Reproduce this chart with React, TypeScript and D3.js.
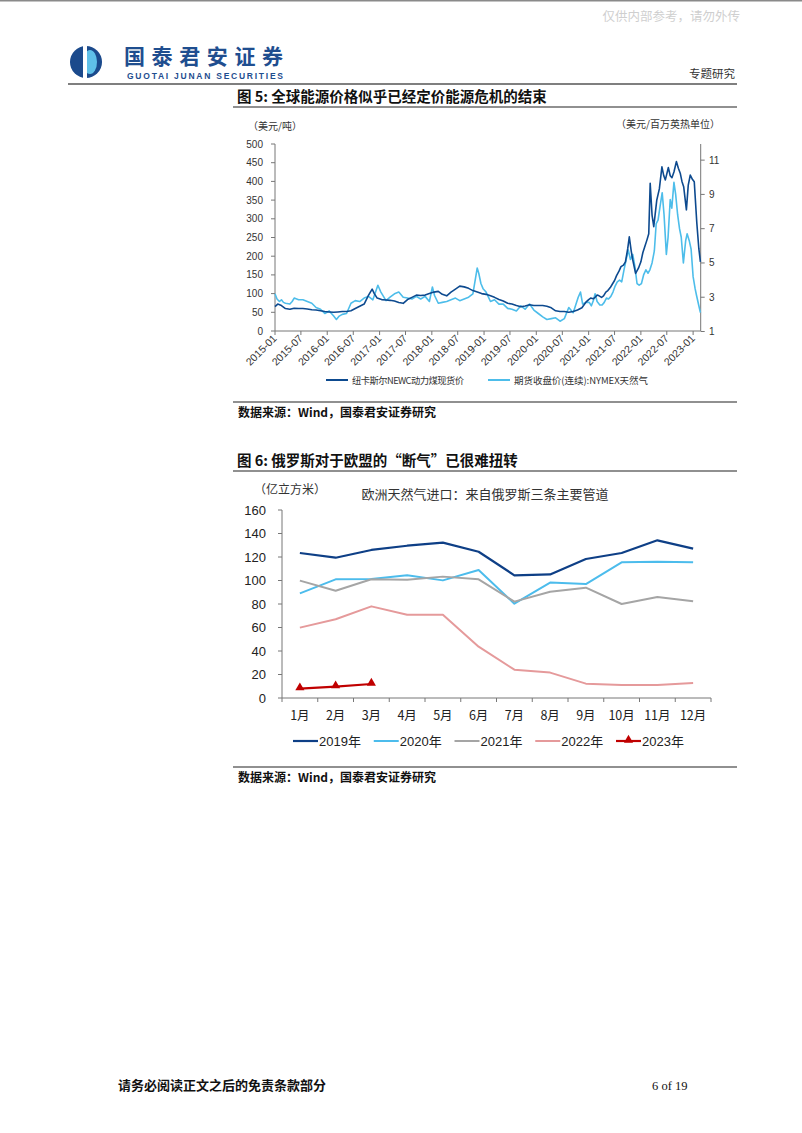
import React from "react";
import * as d3 from "d3";

// 图5 数据：纽卡斯尔NEWC动力煤现货价（美元/吨）
const coalPoints: [string, number][] = [
  ["2015-01-01", 65], ["2015-01-20", 72], ["2015-02-15", 68], ["2015-03-15", 60], ["2015-04-15", 58],
  ["2015-05-15", 61], ["2015-06-15", 60], ["2015-07-15", 60], ["2015-08-15", 59], ["2015-09-15", 57],
  ["2015-10-15", 56], ["2015-11-15", 54], ["2015-12-15", 52],
  ["2016-01-15", 51], ["2016-02-15", 50], ["2016-03-15", 51], ["2016-04-15", 52], ["2016-05-15", 52],
  ["2016-06-15", 54], ["2016-07-15", 60], ["2016-08-15", 66], ["2016-09-15", 72], ["2016-10-15", 95],
  ["2016-11-10", 112], ["2016-11-25", 100], ["2016-12-15", 88],
  ["2017-01-15", 84], ["2017-02-15", 83], ["2017-03-15", 82], ["2017-04-15", 80], ["2017-05-15", 76],
  ["2017-06-15", 74], ["2017-07-15", 84], ["2017-08-15", 90], ["2017-09-15", 96], ["2017-10-15", 95],
  ["2017-11-15", 96], ["2017-12-15", 100],
  ["2018-01-15", 104], ["2018-02-15", 106], ["2018-03-15", 98], ["2018-04-15", 94], ["2018-05-15", 104],
  ["2018-06-15", 112], ["2018-07-15", 120], ["2018-08-15", 118], ["2018-09-15", 114], ["2018-10-15", 108],
  ["2018-11-15", 104], ["2018-12-15", 100],
  ["2019-01-15", 98], ["2019-02-15", 94], ["2019-03-15", 90], ["2019-04-15", 84], ["2019-05-15", 80],
  ["2019-06-15", 74], ["2019-07-15", 72], ["2019-08-15", 68], ["2019-09-15", 65], ["2019-10-15", 67],
  ["2019-11-15", 70], ["2019-12-15", 68],
  ["2020-01-15", 68], ["2020-02-15", 68], ["2020-03-15", 66], ["2020-04-15", 62], ["2020-05-15", 54],
  ["2020-06-15", 52], ["2020-07-15", 52], ["2020-08-15", 50], ["2020-09-15", 52], ["2020-10-15", 56],
  ["2020-11-15", 62], ["2020-12-15", 78],
  ["2021-01-01", 84], ["2021-01-15", 88], ["2021-02-01", 86], ["2021-02-15", 90], ["2021-03-01", 96],
  ["2021-03-15", 94], ["2021-04-01", 90], ["2021-04-15", 94], ["2021-05-01", 104], ["2021-05-15", 108],
  ["2021-06-01", 116], ["2021-06-15", 125], ["2021-07-01", 135], ["2021-07-15", 148], ["2021-08-01", 160],
  ["2021-08-15", 172], ["2021-09-01", 176], ["2021-09-15", 185], ["2021-10-01", 220], ["2021-10-12", 252],
  ["2021-10-25", 215], ["2021-11-05", 190], ["2021-11-25", 154], ["2021-12-15", 168],
  ["2022-01-01", 185], ["2022-01-15", 210], ["2022-01-28", 225], ["2022-02-12", 243], ["2022-02-25", 260],
  ["2022-03-07", 395], ["2022-03-20", 310], ["2022-04-01", 279], ["2022-04-22", 350], ["2022-05-10", 380],
  ["2022-05-28", 439], ["2022-06-10", 415], ["2022-06-21", 404], ["2022-07-12", 437], ["2022-07-25", 415],
  ["2022-08-06", 410], ["2022-08-20", 425], ["2022-09-06", 453], ["2022-09-20", 435], ["2022-10-03", 422],
  ["2022-10-15", 400], ["2022-10-27", 386], ["2022-11-15", 324], ["2022-11-28", 390], ["2022-12-12", 417],
  ["2022-12-28", 405], ["2023-01-09", 399], ["2023-01-27", 288], ["2023-02-10", 220], ["2023-02-21", 185],
];

// 图5 数据：期货收盘价(连续):NYMEX天然气（美元/百万英热单位）
const gasPoints: [string, number][] = [
  ["2015-01-01", 3.2], ["2015-01-15", 2.9], ["2015-02-01", 2.75], ["2015-02-15", 2.85], ["2015-03-01", 2.7],
  ["2015-03-15", 2.65], ["2015-04-15", 2.6], ["2015-05-01", 2.75], ["2015-05-15", 2.95], ["2015-06-15", 2.85],
  ["2015-07-15", 2.85], ["2015-08-15", 2.75], ["2015-09-15", 2.65], ["2015-10-15", 2.4], ["2015-11-15", 2.3],
  ["2015-12-15", 2.05],
  ["2016-01-15", 2.2], ["2016-02-15", 1.9], ["2016-03-05", 1.7], ["2016-03-25", 1.9], ["2016-04-15", 2.0],
  ["2016-05-15", 2.05], ["2016-06-15", 2.65], ["2016-07-15", 2.8], ["2016-08-15", 2.75], ["2016-09-15", 2.95],
  ["2016-10-15", 3.05], ["2016-11-15", 2.85], ["2016-12-20", 3.7],
  ["2017-01-10", 3.3], ["2017-02-15", 2.8], ["2017-03-15", 3.0], ["2017-04-15", 3.2], ["2017-05-15", 3.3],
  ["2017-06-15", 3.0], ["2017-07-15", 2.95], ["2017-08-15", 2.9], ["2017-09-15", 3.05], ["2017-10-15", 2.9],
  ["2017-11-15", 3.05], ["2017-12-15", 2.75],
  ["2018-01-05", 3.6], ["2018-01-20", 3.1], ["2018-02-15", 2.65], ["2018-03-15", 2.7], ["2018-04-15", 2.75],
  ["2018-05-15", 2.85], ["2018-06-15", 2.95], ["2018-07-15", 2.8], ["2018-08-15", 2.9], ["2018-09-15", 3.0],
  ["2018-10-15", 3.2], ["2018-11-14", 4.7], ["2018-11-25", 4.4], ["2018-12-10", 3.8], ["2018-12-25", 3.5],
  ["2019-01-15", 3.3], ["2019-02-15", 2.75], ["2019-03-15", 2.85], ["2019-04-15", 2.6], ["2019-05-15", 2.6],
  ["2019-06-15", 2.35], ["2019-07-15", 2.3], ["2019-08-15", 2.2], ["2019-09-15", 2.5], ["2019-10-15", 2.3],
  ["2019-11-15", 2.6], ["2019-12-15", 2.25],
  ["2020-01-15", 2.05], ["2020-02-15", 1.85], ["2020-03-15", 1.7], ["2020-04-15", 1.75], ["2020-05-15", 1.8],
  ["2020-06-15", 1.6], ["2020-07-15", 1.75], ["2020-08-15", 2.4], ["2020-09-15", 2.1], ["2020-10-20", 3.0],
  ["2020-11-05", 3.3], ["2020-11-20", 2.6], ["2020-12-15", 2.7],
  ["2021-01-05", 2.7], ["2021-01-20", 2.5], ["2021-02-05", 2.85], ["2021-02-15", 3.2], ["2021-03-01", 2.75],
  ["2021-03-20", 2.55], ["2021-04-05", 2.55], ["2021-04-20", 2.7], ["2021-05-05", 2.95], ["2021-05-20", 2.9],
  ["2021-06-05", 3.05], ["2021-06-20", 3.3], ["2021-07-05", 3.65], ["2021-07-20", 3.9], ["2021-08-05", 4.0],
  ["2021-08-20", 3.9], ["2021-09-05", 4.6], ["2021-09-20", 5.2], ["2021-10-05", 5.75], ["2021-10-20", 5.2],
  ["2021-11-05", 5.5], ["2021-11-20", 4.8], ["2021-12-05", 3.8], ["2021-12-20", 3.7],
  ["2022-01-05", 3.8], ["2022-01-20", 4.3], ["2022-02-05", 4.6], ["2022-02-20", 4.4], ["2022-03-05", 4.6],
  ["2022-03-20", 5.0], ["2022-04-05", 5.7], ["2022-04-18", 7.3], ["2022-05-01", 7.5], ["2022-05-15", 8.3],
  ["2022-05-30", 9.1], ["2022-06-12", 7.8], ["2022-06-28", 5.5], ["2022-07-10", 6.5], ["2022-07-25", 8.7],
  ["2022-08-05", 8.2], ["2022-08-20", 9.7], ["2022-09-01", 9.0], ["2022-09-15", 7.8], ["2022-09-28", 7.0],
  ["2022-10-10", 6.5], ["2022-10-25", 5.0], ["2022-11-10", 6.3], ["2022-11-20", 6.7], ["2022-12-05", 6.3],
  ["2022-12-18", 5.8], ["2023-01-01", 4.2], ["2023-01-15", 3.5], ["2023-01-25", 3.1], ["2023-02-10", 2.5],
  ["2023-02-21", 2.1],
];

const leftTicks = [0, 50, 100, 150, 200, 250, 300, 350, 400, 450, 500];
const rightTicks = [1, 3, 5, 7, 9, 11];

// 图6 数据：欧洲天然气进口（亿立方米）
const months = ["1月", "2月", "3月", "4月", "5月", "6月", "7月", "8月", "9月", "10月", "11月", "12月"];
const imports2019 = [123.4, 119.4, 126, 129.6, 132.2, 124.5, 104.4, 105.2, 118.3, 123.4, 134.2, 127.1];
const imports2020 = [89, 101, 101.3, 104.4, 100.1, 109, 80.3, 98.2, 97, 115.5, 116, 115.5];
const imports2021 = [99.9, 91.3, 101, 100.7, 103.3, 101, 82, 90.5, 93.9, 80, 86, 82.3];
const imports2022 = [59.9, 67, 78, 70.9, 70.9, 43.7, 24.1, 21.6, 12.2, 11.1, 11.1, 12.8];
const imports2023 = [7.9, 9.6, 11.9];
const importTicks = [0, 20, 40, 60, 80, 100, 120, 140, 160];

const CJK = "'Noto Sans CJK SC', sans-serif";
const LATIN = "'Liberation Sans', Arial, sans-serif";

const FigureOne: React.FC = () => {
  const parse = d3.timeParse("%Y-%m-%d");
  const x = d3.scaleTime()
    .domain([parse("2015-01-01")!, parse("2023-02-23")!])
    .range([275, 700.7]);
  const yL = d3.scaleLinear().domain([0, 500]).range([331, 144]);
  const yR = d3.scaleLinear().domain([1, 12]).range([331.5, 143]);

  const coal = coalPoints.map(([d, v]) => ({ d: parse(d)!, v }));
  const gas = gasPoints.map(([d, v]) => ({ d: parse(d)!, v }));
  const coalLine = d3.line<{ d: Date; v: number }>().x(p => x(p.d)).y(p => yL(p.v));
  const gasLine = d3.line<{ d: Date; v: number }>().x(p => x(p.d)).y(p => yR(p.v));

  const xTicks = d3.timeMonth.every(6)!.range(parse("2015-01-01")!, parse("2023-01-02")!);
  const fmt = d3.timeFormat("%Y-%m");

  return (
    <g>
      <text x={248} y={130} fontFamily={CJK} fontSize={10} fill="#333">（美元/吨）</text>
      <text x={720} y={128} fontFamily={CJK} fontSize={10} fill="#333" textAnchor="end">（美元/百万英热单位）</text>

      {/* 左轴 */}
      <line x1={275} x2={275} y1={144} y2={331} stroke="#777" />
      {leftTicks.map(t => (
        <g key={t}>
          <line x1={271} x2={275} y1={yL(t)} y2={yL(t)} stroke="#777" />
          <text x={263} y={yL(t) + 3.5} textAnchor="end" fontFamily={LATIN} fontSize={10} fill="#333">{t}</text>
        </g>
      ))}
      {/* 右轴 */}
      <line x1={700.7} x2={700.7} y1={144} y2={331} stroke="#777" />
      {rightTicks.map(t => (
        <g key={t}>
          <line x1={700.7} x2={704.7} y1={yR(t)} y2={yR(t)} stroke="#777" />
          <text x={709} y={yR(t) + 3.5} fontFamily={LATIN} fontSize={10} fill="#333">{t}</text>
        </g>
      ))}
      {/* X轴 */}
      <line x1={275} x2={700.7} y1={331} y2={331} stroke="#777" />
      {xTicks.map(t => (
        <g key={+t}>
          <line x1={x(t)} x2={x(t)} y1={331} y2={335} stroke="#777" />
          <text
            transform={`translate(${x(t) + 2.5},${339}) rotate(-45)`}
            textAnchor="end"
            fontFamily={LATIN}
            fontSize={10.5}
            fill="#333"
          >
            {fmt(t)}
          </text>
        </g>
      ))}

      <path d={gasLine(gas) ?? ""} fill="none" stroke="#4dbdea" strokeWidth={1.6} strokeLinejoin="round" />
      <path d={coalLine(coal) ?? ""} fill="none" stroke="#0d4a8f" strokeWidth={1.6} strokeLinejoin="round" />

      {/* 图例 */}
      <line x1={326} x2={348} y1={380} y2={380} stroke="#0d4a8f" strokeWidth={2} />
      <text x={352} y={384} fontFamily={CJK} fontSize={9.3} fill="#333" textLength={112}>纽卡斯尔NEWC动力煤现货价</text>
      <line x1={488} x2={510} y1={380} y2={380} stroke="#4dbdea" strokeWidth={2} />
      <text x={514} y={384} fontFamily={CJK} fontSize={9.5} fill="#333" textLength={134}>期货收盘价(连续):NYMEX天然气</text>
    </g>
  );
};

const FigureTwo: React.FC = () => {
  const x = d3.scaleBand<string>().domain(months).range([282, 711]);
  const y = d3.scaleLinear().domain([0, 160]).range([698, 510]);
  const cx = (m: string) => (x(m) ?? 0) + x.bandwidth() / 2;

  const series = [
    { name: "2019年", values: imports2019, color: "#0e3f86", width: 2.2 },
    { name: "2020年", values: imports2020, color: "#4cbcec", width: 2 },
    { name: "2021年", values: imports2021, color: "#a5a5a5", width: 2 },
    { name: "2022年", values: imports2022, color: "#e59a9b", width: 2 },
    { name: "2023年", values: imports2023, color: "#c00000", width: 2.2 },
  ];
  const line = d3.line<number>().x((_, i) => cx(months[i])).y(v => y(v));
  const tri = d3.symbol(d3.symbolTriangle, 36);

  return (
    <g>
      <text x={254} y={494} fontFamily={CJK} fontSize={12} fill="#333">（亿立方米）</text>
      <text x={485} y={499} textAnchor="middle" fontFamily={CJK} fontSize={13} fill="#333">欧洲天然气进口：来自俄罗斯三条主要管道</text>

      <line x1={282} x2={282} y1={510} y2={698} stroke="#777" />
      {importTicks.map(t => (
        <g key={t}>
          <line x1={278} x2={282} y1={y(t)} y2={y(t)} stroke="#777" />
          <text x={266} y={y(t) + 4.5} textAnchor="end" fontFamily={LATIN} fontSize={13} fill="#222">{t}</text>
        </g>
      ))}
      <line x1={282} x2={711} y1={698} y2={698} stroke="#777" />
      {months.map((m, i) => (
        <g key={m}>
          <line x1={x(m)} x2={x(m)} y1={698} y2={702} stroke="#777" />
          {i === months.length - 1 && <line x1={711} x2={711} y1={698} y2={702} stroke="#777" />}
          <text x={cx(m)} y={720} textAnchor="middle" fontFamily={CJK} fontSize={12.5} fill="#222">{m}</text>
        </g>
      ))}

      {series.map(s => (
        <path key={s.name} d={line(s.values) ?? ""} fill="none" stroke={s.color} strokeWidth={s.width} strokeLinejoin="round" />
      ))}
      {imports2023.map((v, i) => (
        <path key={i} d={tri() ?? ""} transform={`translate(${cx(months[i])},${y(v) - 1})`} fill="#c00000" />
      ))}

      {/* 图例 */}
      {series.map((s, i) => {
        const lx = 293 + i * 80.75;
        return (
          <g key={s.name}>
            <line x1={lx} x2={lx + 25} y1={741} y2={741} stroke={s.color} strokeWidth={s.width} />
            {s.name === "2023年" && <path d={tri() ?? ""} transform={`translate(${lx + 12.5},${740})`} fill="#c00000" />}
            <text x={lx + 26} y={746} fontFamily={LATIN} fontSize={13} fill="#222">
              {s.name.slice(0, 4)}
              <tspan fontFamily={CJK}>年</tspan>
            </text>
          </g>
        );
      })}
    </g>
  );
};

export default function App() {
  return (
    <svg
      width={802}
      height={1133}
      viewBox="0 0 802 1133"
      style={{ position: "absolute", left: 0, top: 0, background: "#fff" }}
    >
      <rect x={0} y={0} width={802} height={1133} fill="#fff" />
      <rect x={0} y={0} width={802} height={1.5} fill="#8a8a8a" />
      <text x={740} y={21} textAnchor="end" fontFamily={CJK} fontSize={12.5} fill="#cfcfcf">仅供内部参考，请勿外传</text>

      {/* 标志 */}
      <circle cx={86} cy={62} r={16} fill="#1b4a8c" />
      <ellipse cx={90} cy={62} rx={7} ry={12} fill="#5fc0e8" />
      <rect x={83} y={46} width={4} height={32} fill="#fff" />
      <text x={124} y={64} fontFamily={CJK} fontWeight={700} fontSize={21} fill="#1f4e8f" textLength={159}>国泰君安证券</text>
      <text x={127} y={79} fontFamily={LATIN} fontWeight={700} fontSize={8.5} fill="#1f4e8f" textLength={156}>GUOTAI JUNAN SECURITIES</text>
      <text x={735} y={78} textAnchor="end" fontFamily={CJK} fontSize={11.5} fill="#333">专题研究</text>
      <line x1={68} x2={737} y1={84} y2={84} stroke="#555" strokeWidth={1.5} />

      <text x={237} y={102} fontFamily={CJK} fontWeight={700} fontSize={14.5} fill="#111">图 5:  全球能源价格似乎已经定价能源危机的结束</text>
      <line x1={233} x2={737} y1={107} y2={107} stroke="#222" strokeWidth={1.2} />
      <FigureOne />
      <line x1={233} x2={737} y1={402} y2={402} stroke="#222" strokeWidth={1.2} />
      <text x={238} y={417} fontFamily={CJK} fontWeight={700} fontSize={12} fill="#111">数据来源：Wind，国泰君安证券研究</text>

      <text x={237} y={466} fontFamily={CJK} fontWeight={700} fontSize={14.5} fill="#111">图 6:  俄罗斯对于欧盟的“断气”已很难扭转</text>
      <line x1={233} x2={737} y1={471} y2={471} stroke="#222" strokeWidth={1.2} />
      <FigureTwo />
      <line x1={233} x2={737} y1={767} y2={767} stroke="#222" strokeWidth={1.2} />
      <text x={238} y={782} fontFamily={CJK} fontWeight={700} fontSize={12} fill="#111">数据来源：Wind，国泰君安证券研究</text>

      <text x={118} y={1090} fontFamily={CJK} fontWeight={700} fontSize={13} fill="#111">请务必阅读正文之后的免责条款部分</text>
      <text x={652} y={1090} fontFamily="'Liberation Serif', serif" fontSize={12.5} fill="#111">6 of 19</text>
    </svg>
  );
}
